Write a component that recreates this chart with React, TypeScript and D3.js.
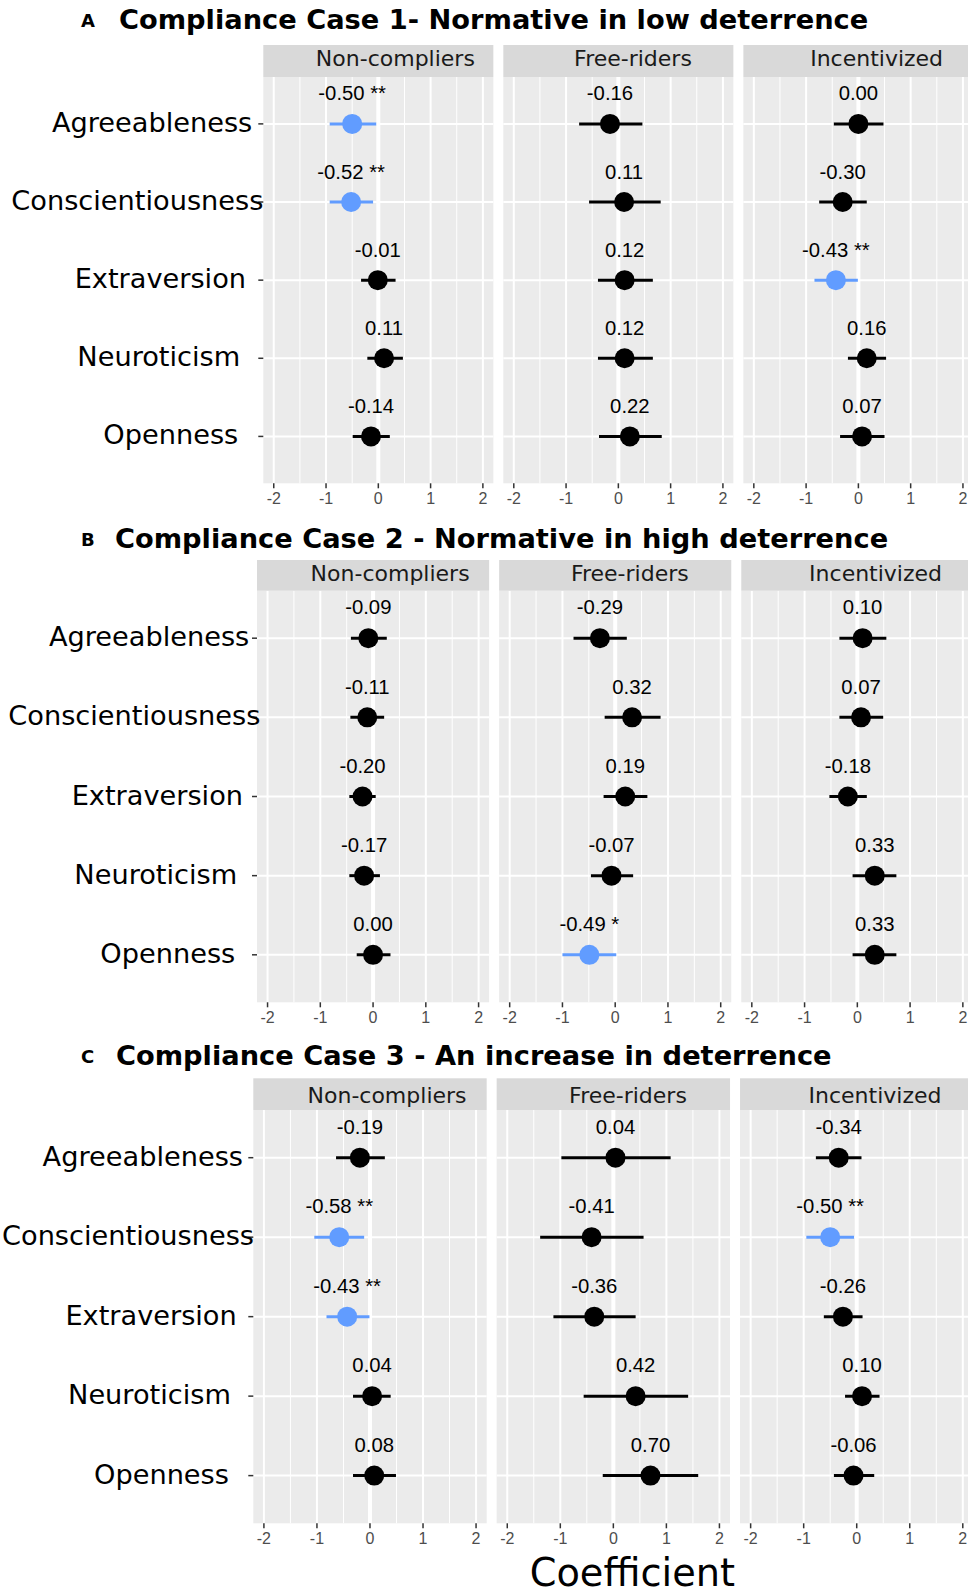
import React, { useEffect, useRef } from 'react';
import * as d3 from 'd3';

// categories
const traits = ['Agreeableness', 'Conscientiousness', 'Extraversion', 'Neuroticism', 'Openness'];
const groups = ['Non-compliers', 'Free-riders', 'Incentivized'];
const tags = ['A', 'B', 'C'];
const titles = [
  'Compliance Case 1- Normative in low deterrence',
  'Compliance Case 2 - Normative in high deterrence',
  'Compliance Case 3 - An increase in deterrence',
];
const xTicks = [-2, -1, 0, 1, 2];
const xMinor = [-1.5, -0.5, 0.5, 1.5];

// case 1 (rows: groups, cols: traits)
const case1Est = [
  [-0.50, -0.52, -0.01, 0.11, -0.14],
  [-0.16, 0.11, 0.12, 0.12, 0.22],
  [0.00, -0.30, -0.43, 0.16, 0.07],
];
const case1Lo = [
  [-0.93, -0.93, -0.33, -0.21, -0.49],
  [-0.75, -0.56, -0.39, -0.39, -0.37],
  [-0.47, -0.75, -0.84, -0.20, -0.35],
];
const case1Hi = [
  [-0.04, -0.10, 0.33, 0.47, 0.22],
  [0.46, 0.81, 0.66, 0.66, 0.83],
  [0.48, 0.16, -0.01, 0.53, 0.50],
];
const case1Sig = [
  ['**', '**', '', '', ''],
  ['', '', '', '', ''],
  ['', '', '**', '', ''],
];

// case 2
const case2Est = [
  [-0.09, -0.11, -0.20, -0.17, 0.00],
  [-0.29, 0.32, 0.19, -0.07, -0.49],
  [0.10, 0.07, -0.18, 0.33, 0.33],
];
const case2Lo = [
  [-0.42, -0.43, -0.45, -0.45, -0.31],
  [-0.79, -0.20, -0.22, -0.46, -1.00],
  [-0.34, -0.34, -0.53, -0.09, -0.09],
];
const case2Hi = [
  [0.26, 0.21, 0.05, 0.13, 0.33],
  [0.22, 0.86, 0.61, 0.34, 0.02],
  [0.55, 0.49, 0.18, 0.74, 0.74],
];
const case2Sig = [
  ['', '', '', '', ''],
  ['', '', '', '', '*'],
  ['', '', '', '', ''],
];

// case 3
const case3Est = [
  [-0.19, -0.58, -0.43, 0.04, 0.08],
  [0.04, -0.41, -0.36, 0.42, 0.70],
  [-0.34, -0.50, -0.26, 0.10, -0.06],
];
const case3Lo = [
  [-0.64, -1.05, -0.82, -0.32, -0.32],
  [-0.98, -1.38, -1.13, -0.56, -0.20],
  [-0.77, -0.95, -0.62, -0.22, -0.43],
];
const case3Hi = [
  [0.28, -0.11, -0.01, 0.39, 0.49],
  [1.08, 0.57, 0.42, 1.41, 1.60],
  [0.09, -0.05, 0.11, 0.43, 0.33],
];
const case3Sig = [
  ['', '**', '**', '', ''],
  ['', '', '', '', ''],
  ['', '**', '', '', ''],
];

const W = 968;
const H = 1593;
const SANS = '"DejaVu Sans", sans-serif';
const ARIAL = '"Liberation Sans", Arial, sans-serif';
const BLUE = '#619CFF';
const K = 1.273; // layout-width vs rendered-width mismatch in the original
const RIGHT = 973.4;
const GAP = 10;
// small per-label nudges (the original labels carry uneven padding)
const labelShift = [0, 0, 0, -4, 0];
const stripShift = [0, 2, 4];

const layout = [
  { titleY: 29.3, titleX: 119, stripTop: 45, stripBot: 77, stripText: 20.7, stripDx: 0, panelBot: 483.3, left: 263.3, labelAnchor: 209.3 },
  { titleY: 548, titleX: 115, stripTop: 560, stripBot: 590.7, stripText: 21, stripDx: 0, panelBot: 1002.3, left: 257, labelAnchor: 206.3 },
  { titleY: 1065, titleX: 116, stripTop: 1078.3, stripBot: 1110, stripText: 25, stripDx: 0, panelBot: 1523.3, left: 253.3, labelAnchor: 200 },
];
const est = [case1Est, case2Est, case3Est];
const lo = [case1Lo, case2Lo, case3Lo];
const hi = [case1Hi, case2Hi, case3Hi];
const sig = [case1Sig, case2Sig, case3Sig];

export default function App() {
  const ref = useRef<SVGSVGElement>(null);

  useEffect(() => {
    const svg = d3.select(ref.current);
    svg.selectAll('*').remove();

    svg.append('rect').attr('width', W).attr('height', H).attr('fill', 'white');

    layout.forEach((s, si) => {
      const g = svg.append('g');

      // tag + title
      g.append('text')
        .attr('x', 81).attr('y', s.titleY - 2)
        .attr('font-family', SANS).attr('font-weight', 'bold').attr('font-size', 18)
        .text(tags[si]);
      g.append('text')
        .attr('x', s.titleX).attr('y', s.titleY)
        .attr('font-family', SANS).attr('font-weight', 'bold').attr('font-size', 27.25)
        .text(titles[si]);

      const pw = (RIGHT - s.left - 2 * GAP) / 3;
      const y = d3.scalePoint<string>().domain(traits).range([s.stripBot, s.panelBot]).padding(0.6);
      const step = y.step();

      groups.forEach((grp, gi) => {
        const x0 = s.left + gi * (pw + GAP);
        const x = d3.scaleLinear().domain([-2.2, 2.2]).range([x0, x0 + pw]);
        const p = g.append('g');

        p.append('rect')
          .attr('x', x0).attr('y', s.stripBot)
          .attr('width', pw).attr('height', s.panelBot - s.stripBot)
          .attr('fill', '#EBEBEB');

        p.selectAll('line.minor').data(xMinor).join('line')
          .attr('x1', d => x(d)).attr('x2', d => x(d))
          .attr('y1', s.stripBot).attr('y2', s.panelBot)
          .attr('stroke', 'white').attr('stroke-width', 1);
        p.selectAll('line.major').data(xTicks).join('line')
          .attr('x1', d => x(d)).attr('x2', d => x(d))
          .attr('y1', s.stripBot).attr('y2', s.panelBot)
          .attr('stroke', 'white').attr('stroke-width', 2);
        p.selectAll('line.hmajor').data(traits).join('line')
          .attr('x1', x0).attr('x2', x0 + pw)
          .attr('y1', d => y(d)!).attr('y2', d => y(d)!)
          .attr('stroke', 'white').attr('stroke-width', 2);
        p.append('line')
          .attr('x1', x(0)).attr('x2', x(0))
          .attr('y1', s.stripBot).attr('y2', s.panelBot)
          .attr('stroke', 'white').attr('stroke-width', 4);

        // strip
        p.append('rect')
          .attr('x', x0).attr('y', s.stripTop)
          .attr('width', pw).attr('height', s.stripBot - s.stripTop)
          .attr('fill', '#D9D9D9');
        const st = p.append('text')
          .attr('y', s.stripTop + s.stripText)
          .attr('font-family', SANS).attr('font-size', 22).attr('fill', '#1A1A1A')
          .text(grp);
        const sw = (st.node() as SVGTextElement).getComputedTextLength();
        st.attr('x', x0 + pw / 2 - sw / (2 * K) + s.stripDx + stripShift[gi]);

        // estimates
        traits.forEach((t, ti) => {
          const e = est[si][gi][ti];
          const star = sig[si][gi][ti];
          const col = star ? BLUE : 'black';
          const yy = y(t)!;
          p.append('line')
            .attr('x1', x(lo[si][gi][ti])).attr('x2', x(hi[si][gi][ti]))
            .attr('y1', yy).attr('y2', yy)
            .attr('stroke', col).attr('stroke-width', 3);
          p.append('circle')
            .attr('cx', x(e)).attr('cy', yy).attr('r', 10)
            .attr('fill', col);
          p.append('text')
            .attr('x', x(e)).attr('y', yy - 0.3 * step)
            .attr('text-anchor', 'middle')
            .attr('font-family', ARIAL).attr('font-size', 20.3)
            .text(e.toFixed(2) + (star ? ' ' + star : ''));
        });

        // x axis
        p.selectAll('line.xt').data(xTicks).join('line')
          .attr('x1', d => x(d)).attr('x2', d => x(d))
          .attr('y1', s.panelBot).attr('y2', s.panelBot + 5)
          .attr('stroke', '#333333').attr('stroke-width', 1.5);
        p.selectAll('text.xt').data(xTicks).join('text')
          .attr('x', d => x(d)).attr('y', s.panelBot + 21)
          .attr('text-anchor', 'middle')
          .attr('font-family', ARIAL).attr('font-size', 16).attr('fill', '#4D4D4D')
          .text(d => String(d));
      });

      // y axis labels and ticks
      traits.forEach((t, ti) => {
        const yy = y(t)!;
        g.append('line')
          .attr('x1', s.left - 5).attr('x2', s.left)
          .attr('y1', yy).attr('y2', yy)
          .attr('stroke', '#333333').attr('stroke-width', 1.5);
        const lt = g.append('text')
          .attr('y', yy + 8)
          .attr('font-family', SANS).attr('font-size', 27.2)
          .text(t);
        const lw = (lt.node() as SVGTextElement).getComputedTextLength();
        lt.attr('x', s.labelAnchor - lw / K + labelShift[ti]);
      });
    });

    // axis title
    const at = svg.append('text')
      .attr('y', 1586)
      .attr('font-family', SANS).attr('font-size', 38.3)
      .text('Coefficient');
    const aw = (at.node() as SVGTextElement).getComputedTextLength();
    const c = layout[2];
    at.attr('x', (c.left + RIGHT) / 2 - aw / (2 * K) - 3);
  }, []);

  return (
    <svg
      ref={ref}
      width={W}
      height={H}
      style={{ position: 'absolute', left: 0, top: 0, display: 'block' }}
    />
  );
}
